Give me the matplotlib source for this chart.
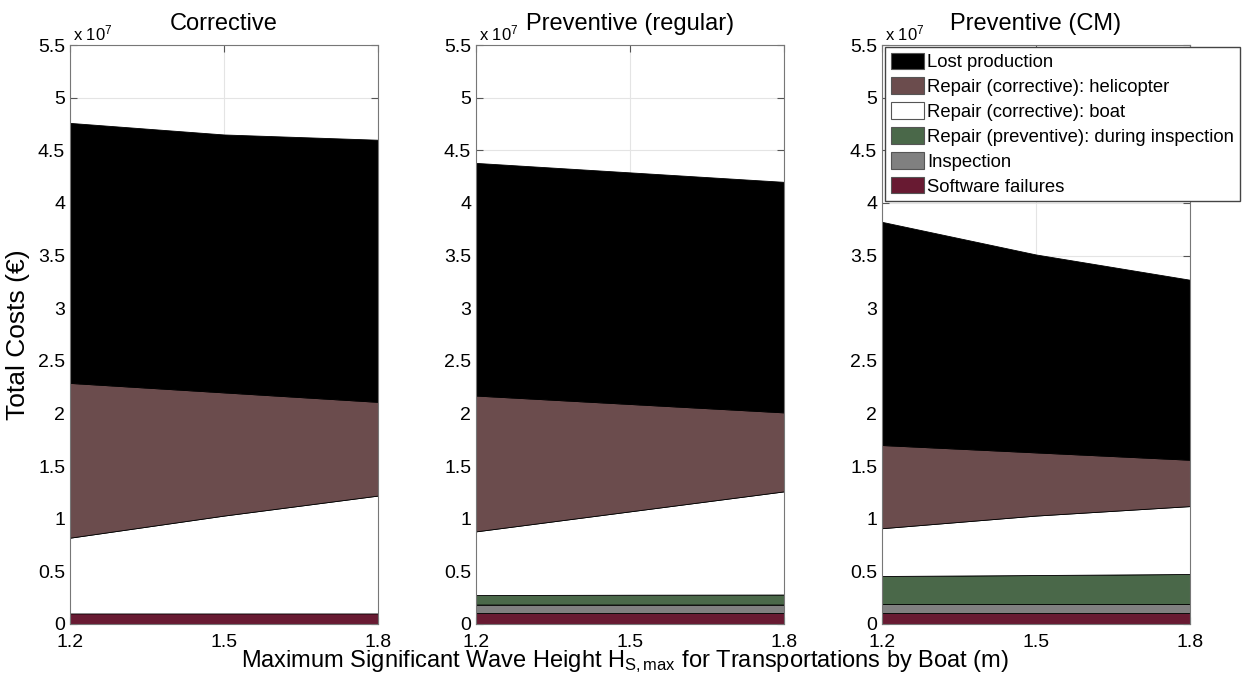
import matplotlib.pyplot as plt
from matplotlib.patches import Patch
from matplotlib.ticker import FuncFormatter

plt.rcParams['font.family'] = ['Liberation Sans', 'DejaVu Sans']
plt.rcParams['mathtext.fontset'] = 'custom'
plt.rcParams['mathtext.rm'] = 'Liberation Sans'
plt.rcParams['mathtext.it'] = 'Liberation Sans'

hs_max = [1.2, 1.5, 1.8]
titles = ['Corrective', 'Preventive (regular)', 'Preventive (CM)']

labels = ['Software failures', 'Inspection', 'Repair (preventive): during inspection',
          'Repair (corrective): boat', 'Repair (corrective): helicopter', 'Lost production']
colors = ['#681a32', '#808080', '#4a6849', '#ffffff', '#6b4c4d', '#000000']

# cost components (EUR), bottom to top of the stack
software = [[1.0e6, 1.0e6, 1.0e6], [1.0e6, 1.0e6, 1.0e6], [1.0e6, 1.0e6, 1.0e6]]
inspection = [[0, 0, 0], [0.85e6, 0.85e6, 0.85e6], [0.9e6, 0.9e6, 0.9e6]]
repair_prev = [[0, 0, 0], [0.9e6, 0.93e6, 0.95e6], [2.66e6, 2.75e6, 2.85e6]]
repair_boat = [[7.2e6, 9.3e6, 11.2e6], [6.05e6, 7.92e6, 9.8e6], [4.54e6, 5.65e6, 6.45e6]]
repair_heli = [[14.7e6, 11.7e6, 8.9e6], [12.9e6, 10.2e6, 7.5e6], [7.9e6, 6.0e6, 4.4e6]]
lost_prod = [[24.7e6, 24.5e6, 24.9e6], [22.1e6, 22.0e6, 21.9e6], [21.2e6, 18.8e6, 17.1e6]]

W, H = 1257, 683
fig = plt.figure(figsize=(W / 100, H / 100), dpi=100)
lefts = [70, 476, 882]

for p in range(3):
    ax = fig.add_axes([lefts[p] / W, (H - 624) / H, 308 / W, 579 / H])
    ax.stackplot(hs_max, software[p], inspection[p], repair_prev[p],
                 repair_boat[p], repair_heli[p], lost_prod[p],
                 colors=colors, edgecolor='k', linewidth=0.6)
    ax.set_xlim(1.2, 1.8)
    ax.set_ylim(0, 5.5e7)
    ax.set_xticks(hs_max)
    ax.set_xticklabels(['1.2', '1.5', '1.8'])
    ax.set_yticks([i * 0.5e7 for i in range(12)])
    ax.yaxis.set_major_formatter(FuncFormatter(lambda v, pos: '%g' % (v / 1e7)))
    ax.grid(True, color='#e4e4e4', linewidth=0.8)
    ax.set_axisbelow(True)
    ax.tick_params(direction='in', top=True, right=True, length=5,
                   labelsize=14, color='#555555')
    ax.tick_params(axis='x', pad=7)
    for s in ax.spines.values():
        s.set_color('#777777')
        s.set_linewidth(0.8)
    ax.set_title(titles[p], fontsize=17, pad=11)
    ax.text(0.01, 1.003, r'x 10$^7$', transform=ax.transAxes, ha='left',
            va='bottom', fontsize=12)
    if p == 0:
        ax.set_ylabel('Total Costs (€)', fontsize=19, labelpad=6)

handles = [Patch(facecolor=c, edgecolor='#555555', linewidth=0.8) for c in colors]
fig.legend(handles[::-1], labels[::-1], loc='upper left',
           bbox_to_anchor=(885 / W, 1 - 47 / H), bbox_transform=fig.transFigure,
           borderaxespad=0, fontsize=13.3, frameon=True, fancybox=False,
           edgecolor='#444444', framealpha=1, handlelength=1.8, handleheight=1.0,
           handletextpad=0.2, labelspacing=0.34, borderpad=0.3)

fig.text(625 / W, 1 - 662 / H,
         r'Maximum Significant Wave Height H$_{\mathrm{S,max}}$ for Transportations by Boat (m)',
         ha='center', va='center', fontsize=17)

fig.savefig('out.png', dpi=100)
